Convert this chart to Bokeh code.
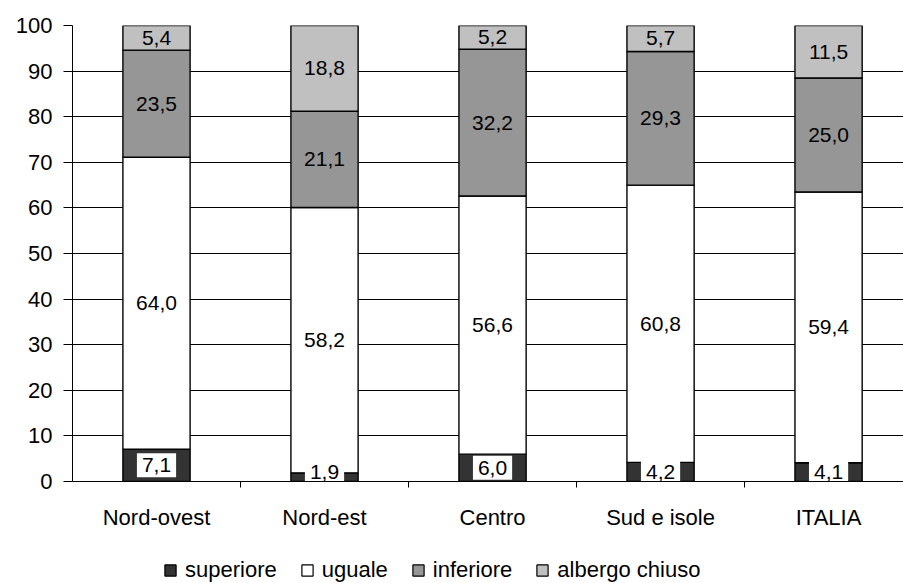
from bokeh.plotting import figure
from bokeh.models import (ColumnDataSource, Range1d, FixedTicker, Legend, LegendItem)
from bokeh.layouts import column
from bokeh.core.properties import value
from bokeh.embed import file_html
from bokeh.resources import INLINE

categories = ["Nord-ovest", "Nord-est", "Centro", "Sud e isole", "ITALIA"]
superiore = [7.1, 1.9, 6.0, 4.2, 4.1]
uguale = [64.0, 58.2, 56.6, 60.8, 59.4]
inferiore = [23.5, 21.1, 32.2, 29.3, 25.0]
albergo_chiuso = [5.4, 18.8, 5.2, 5.7, 11.5]
series_names = ["superiore", "uguale", "inferiore", "albergo chiuso"]
y_ticks = [0, 10, 20, 30, 40, 50, 60, 70, 80, 90, 100]

colors = ["#333333", "#ffffff", "#969696", "#c0c0c0"]
FONT = "Liberation Sans"

xs = [i + 0.5 for i in range(len(categories))]
keys = ["superiore", "uguale", "inferiore", "albergo_chiuso"]
series = [superiore, uguale, inferiore, albergo_chiuso]
src = ColumnDataSource(dict(x=xs, superiore=superiore, uguale=uguale,
                            inferiore=inferiore, albergo_chiuso=albergo_chiuso))

p = figure(width=903, height=550, output_backend="svg", toolbar_location=None,
           x_range=Range1d(0, 4.946), y_range=Range1d(0, 100),
           min_border_left=72, min_border_right=0, min_border_top=25,
           min_border_bottom=69)
p.outline_line_color = None
p.background_fill_color = "white"
p.border_fill_color = "white"

renderers = p.vbar_stack(keys, x="x", width=0.4, color=colors, line_color="black",
                         line_width=1.4, source=src)

def fmt(v):
    return f"{v:.1f}".replace(".", ",")

bottoms = [0.0] * len(categories)
for k, vals in enumerate(series):
    ys = []
    for i, v in enumerate(vals):
        mid = bottoms[i] + v / 2
        if k == 0:
            mid = max(mid, 2.1)
        ys.append(mid)
        bottoms[i] += v
    lsrc = ColumnDataSource(dict(x=xs, y=ys, t=[fmt(v) for v in vals]))
    kw = {}
    if k == 0:
        kw = dict(background_fill_color="white", padding=5)
    p.text(x="x", y="y", text="t", source=lsrc, text_align="center",
           text_baseline="middle", text_font=value(FONT), text_font_size="21px",
           text_color="black", **kw)

p.yaxis.ticker = FixedTicker(ticks=y_ticks)
p.yaxis.major_tick_out = 9
p.yaxis.major_tick_in = 0
p.yaxis.minor_tick_line_color = None
p.yaxis.major_label_standoff = 11
p.yaxis.major_label_text_font = FONT
p.yaxis.major_label_text_font_size = "22px"
p.yaxis.major_label_text_color = "black"
p.yaxis.axis_line_color = "black"
p.yaxis.major_tick_line_color = "black"

p.xaxis.ticker = FixedTicker(ticks=xs, minor_ticks=[1, 2, 3, 4])
p.xaxis.major_label_overrides = {x: c for x, c in zip(xs, categories)}
p.xaxis.major_tick_line_color = None
p.xaxis.minor_tick_line_color = "black"
p.xaxis.minor_tick_out = 6
p.xaxis.minor_tick_in = 0
p.xaxis.major_tick_out = 6
p.xaxis.major_label_standoff = 17
p.xaxis.major_label_text_font = FONT
p.xaxis.major_label_text_font_size = "22px"
p.xaxis.major_label_text_color = "black"
p.xaxis.axis_line_color = "black"

p.xgrid.visible = False
p.ygrid.ticker = FixedTicker(ticks=y_ticks)
p.ygrid.grid_line_color = "black"
p.ygrid.grid_line_width = 1

# legend strip under the chart (its bars lie outside its visible range)
lf = figure(width=903, height=33, output_backend="svg", toolbar_location=None,
            x_range=Range1d(0, 1), y_range=Range1d(1000, 1001),
            min_border_left=0, min_border_right=0, min_border_top=0,
            min_border_bottom=0, x_axis_location=None, y_axis_location=None)
lf.outline_line_color = None
lf.xgrid.visible = False
lf.ygrid.visible = False
lrs = lf.vbar_stack(keys, x="x", width=0.4, color=colors, line_color="black",
                    line_width=1.2, source=src)
legend = Legend(items=[LegendItem(label=n, renderers=[r]) for n, r in zip(series_names, lrs)],
                location=(91, 0), orientation="horizontal", padding=0, margin=0,
                spacing=23, glyph_width=14, glyph_height=14, label_height=14,
                label_standoff=8, label_text_font=FONT, label_text_font_size="22px",
                label_text_color="black", border_line_color=None,
                background_fill_alpha=0)
lf.add_layout(legend, "center")

layout = column(p, lf, spacing=0)
open("out.html", "w").write(file_html(layout, INLINE))
